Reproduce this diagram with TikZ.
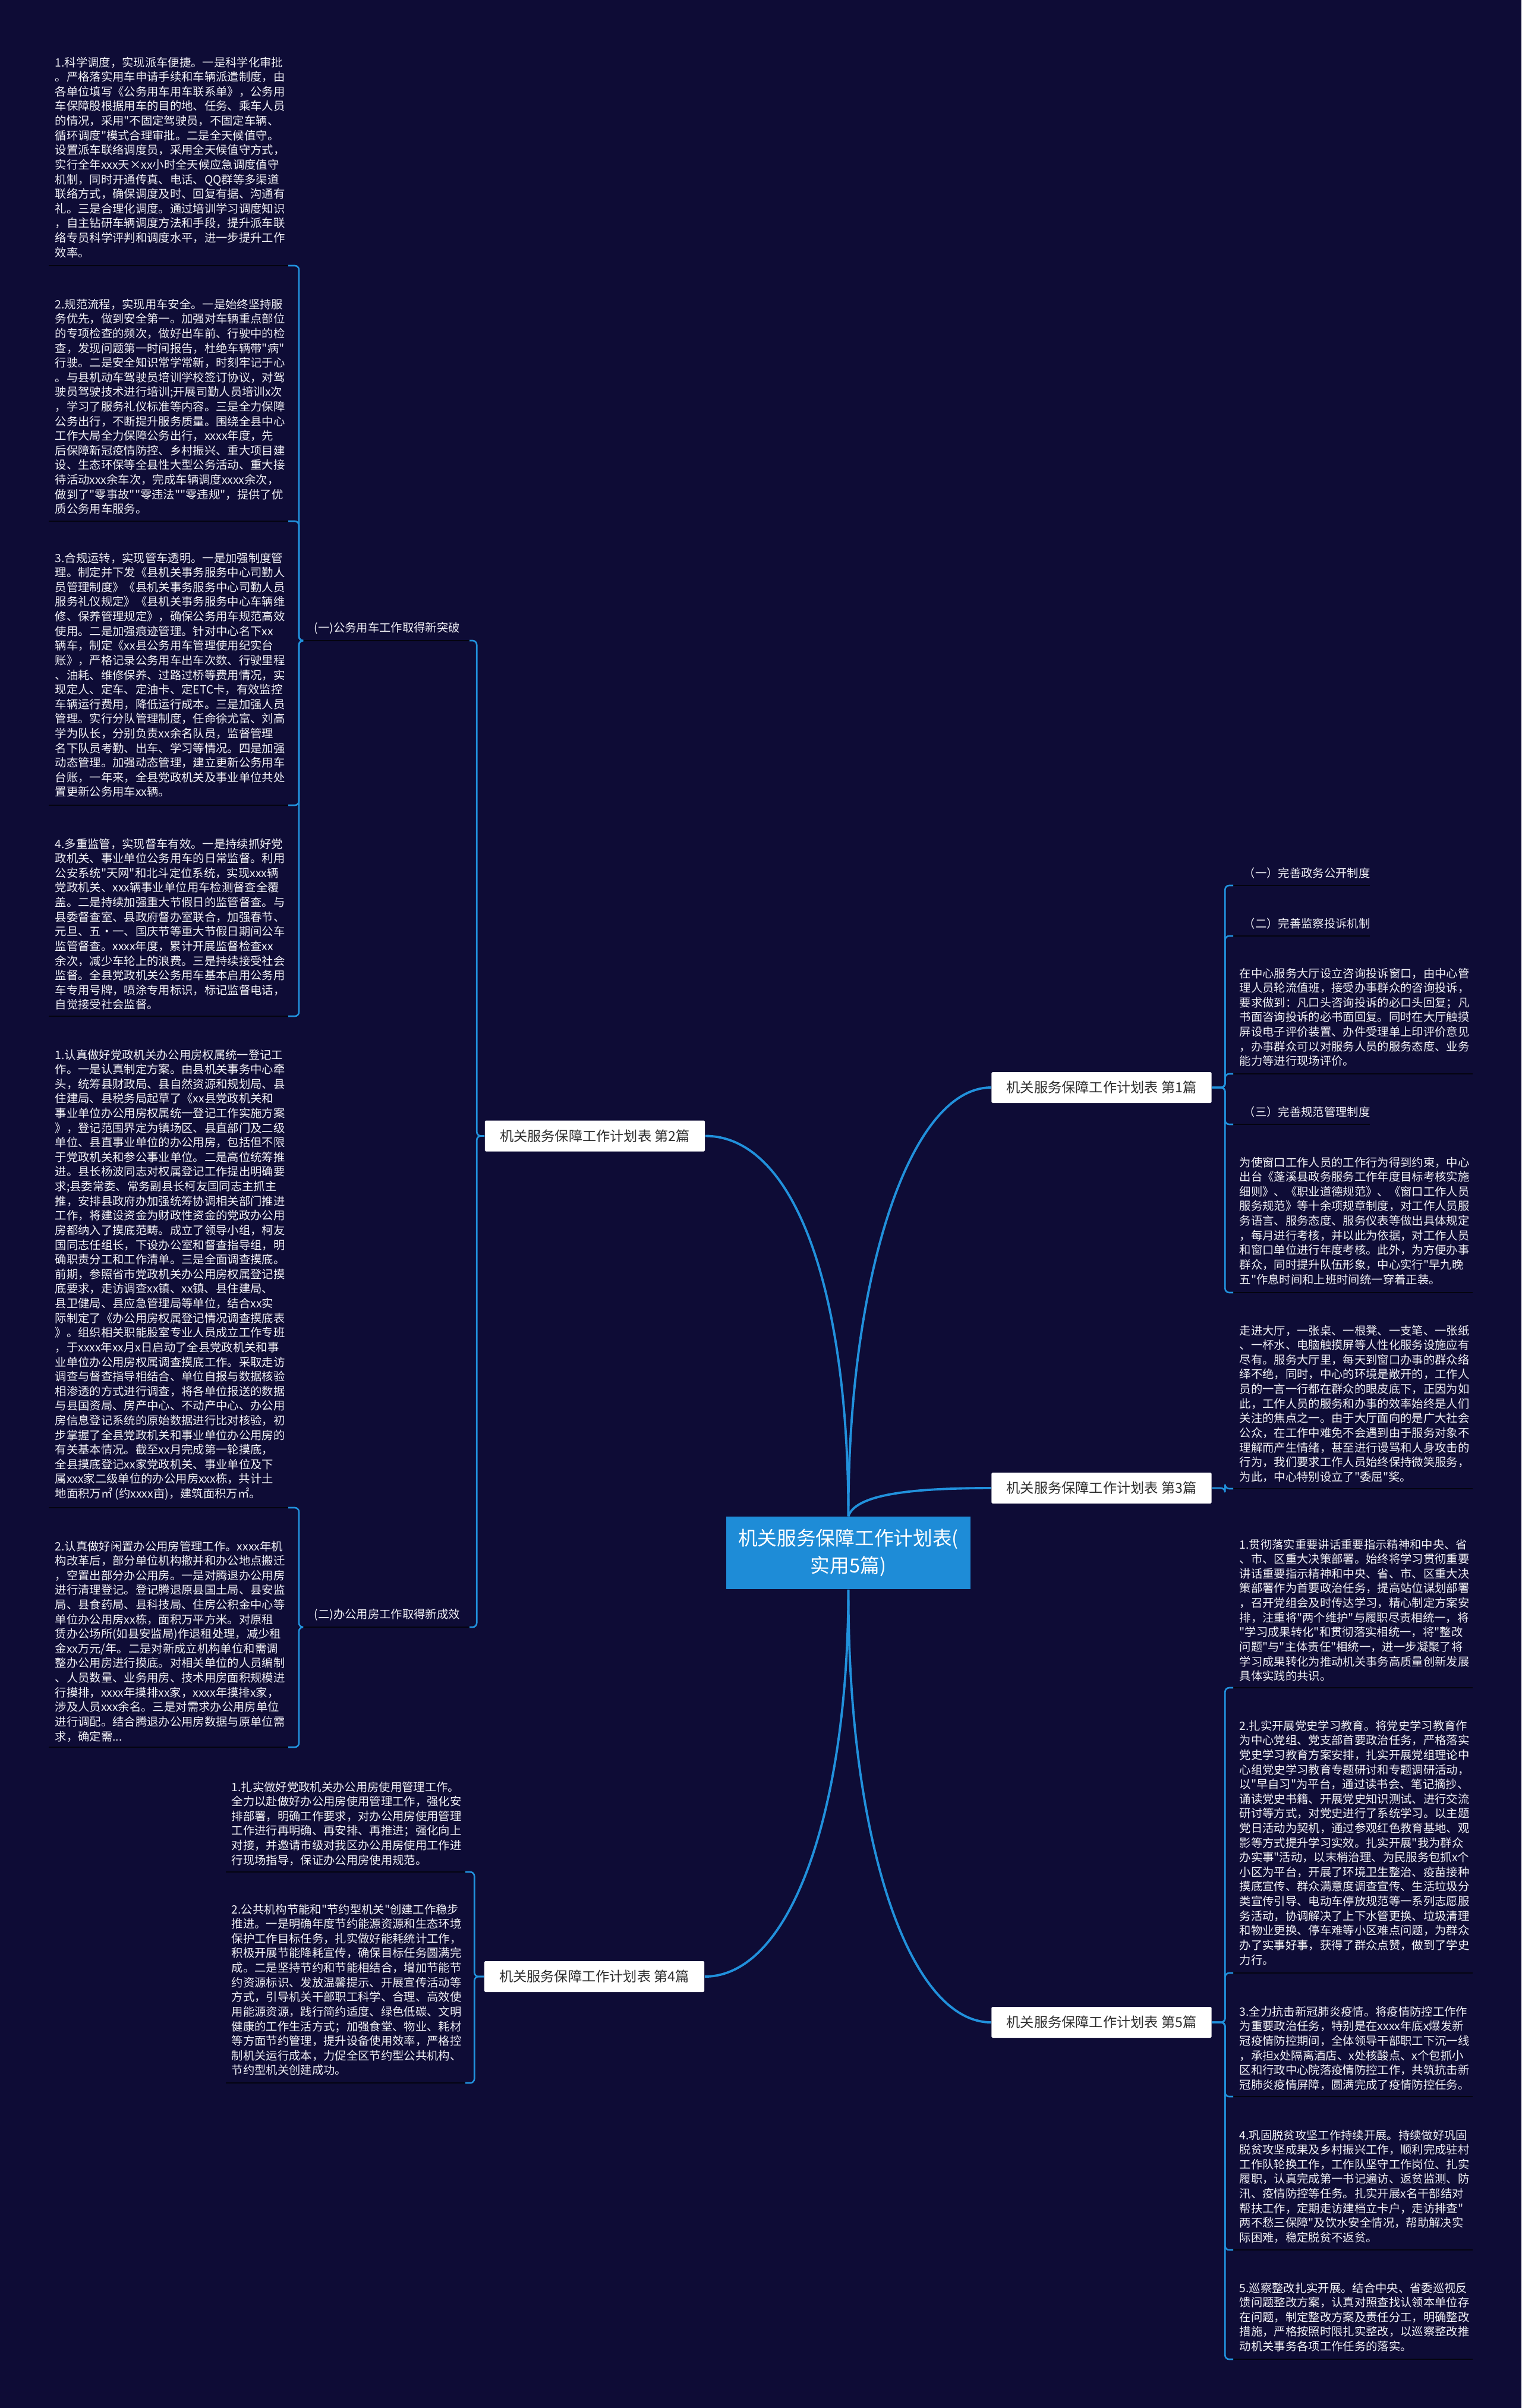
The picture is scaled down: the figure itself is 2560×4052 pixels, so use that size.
\documentclass[tikz,border=0pt]{standalone}
\usepackage{fontspec}
\newfontfamily\cjk{Noto Sans CJK SC}
\definecolor{bg}{RGB}{14,12,54}
\definecolor{lnk}{RGB}{33,145,220}
\definecolor{ulc}{RGB}{4,4,16}
\definecolor{txt}{RGB}{240,240,245}
\definecolor{rootc}{RGB}{30,140,215}
\definecolor{brtxt}{RGB}{45,45,45}
\tikzset{
 para/.style={font=\cjk\fontsize{5.5pt}{7pt}\selectfont, text=txt, align=left, inner sep=0pt, anchor=north west},
 lab/.style={font=\cjk\fontsize{5.5pt}{7pt}\selectfont, text=txt, inner sep=0pt, anchor=west},
 branch/.style={fill=white, text=brtxt, font=\cjk\fontsize{6.6pt}{8pt}\selectfont, minimum width=3.7cm, minimum height=0.52cm, inner sep=0pt, rounded corners=0.5pt},
 rootbox/.style={fill=rootc, text=white, font=\cjk\fontsize{9.3pt}{13pt}\selectfont, align=center, minimum width=4.11cm, minimum height=1.22cm, inner sep=0pt},
 ul/.style={draw=ulc, line width=0.8pt},
 br/.style={draw=lnk, line width=0.75pt, rounded corners=2pt},
 mainln/.style={draw=lnk, line width=1.1pt},
}
\begin{document}
\begin{tikzpicture}[x=0.01cm,y=-0.01cm]
\fill[bg] (0,0) rectangle (2560,4052);
\useasboundingbox (0,0) rectangle (2560,4052);

% root and branches
\node[rootbox] (c) at (1427.5,2613) {机关服务保障工作计划表(\\实用5篇)};
\node[branch] (p2) at (1001,1911.5) {机关服务保障工作计划表 第2篇};
\node[branch] (p4) at (1000,3326) {机关服务保障工作计划表 第4篇};
\node[branch] (p1) at (1853.5,1830) {机关服务保障工作计划表 第1篇};
\node[branch] (p3) at (1853.5,2504) {机关服务保障工作计划表 第3篇};
\node[branch] (p5) at (1853.5,3403) {机关服务保障工作计划表 第5篇};

\draw[mainln] (c.north) .. controls (1427,2150) and (1330,1911.5) .. (p2.east);
\draw[mainln] (c.north) .. controls (1427,2150) and (1530,1830) .. (p1.west);
\draw[mainln] (c.north) .. controls (1440,2515) and (1530,2504) .. (p3.west);
\draw[mainln] (c.south) .. controls (1427,3050) and (1330,3326) .. (p4.east);
\draw[mainln] (c.south) .. controls (1427,3100) and (1530,3403) .. (p5.west);

% ---------- left: 第2篇 ----------
\node[lab] (lab1) at (528,1057) {(一)公务用车工作取得新突破};
\node[lab] (lab2) at (528,2717) {(二)办公用房工作取得新成效};
\coordinate (lab1l) at (510,1078); \coordinate (lab1r) at (790,1078);
\coordinate (lab2l) at (510,2738); \coordinate (lab2r) at (790,2738);
\draw[ul] (lab1l) -- (lab1r);
\draw[ul] (lab2l) -- (lab2r);

\node[para] (L1) at (92,95) {1.科学调度，实现派车便捷。一是科学化审批\\
。严格落实用车申请手续和车辆派遣制度，由\\
各单位填写《公务用车用车联系单》，公务用\\
车保障股根据用车的目的地、任务、乘车人员\\
的情况，采用"不固定驾驶员，不固定车辆、\\
循环调度"模式合理审批。二是全天候值守。\\
设置派车联络调度员，采用全天候值守方式，\\
实行全年xxx天×xx小时全天候应急调度值守\\
机制，同时开通传真、电话、QQ群等多渠道\\
联络方式，确保调度及时、回复有据、沟通有\\
礼。三是合理化调度。通过培训学习调度知识\\
，自主钻研车辆调度方法和手段，提升派车联\\
络专员科学评判和调度水平，进一步提升工作\\
效率。};
\node[para] (L2) at (92,502) {2.规范流程，实现用车安全。一是始终坚持服\\
务优先，做到安全第一。加强对车辆重点部位\\
的专项检查的频次，做好出车前、行驶中的检\\
查，发现问题第一时间报告，杜绝车辆带"病"\\
行驶。二是安全知识常学常新，时刻牢记于心\\
。与县机动车驾驶员培训学校签订协议，对驾\\
驶员驾驶技术进行培训;开展司勤人员培训x次\\
，学习了服务礼仪标准等内容。三是全力保障\\
公务出行，不断提升服务质量。围绕全县中心\\
工作大局全力保障公务出行，xxxx年度，先\\
后保障新冠疫情防控、乡村振兴、重大项目建\\
设、生态环保等全县性大型公务活动、重大接\\
待活动xxx余车次，完成车辆调度xxxx余次，\\
做到了"零事故""零违法""零违规"，提供了优\\
质公务用车服务。};
\node[para] (L3) at (92,929) {3.合规运转，实现管车透明。一是加强制度管\\
理。制定并下发《县机关事务服务中心司勤人\\
员管理制度》《县机关事务服务中心司勤人员\\
服务礼仪规定》《县机关事务服务中心车辆维\\
修、保养管理规定》，确保公务用车规范高效\\
使用。二是加强痕迹管理。针对中心名下xx\\
辆车，制定《xx县公务用车管理使用纪实台\\
账》，严格记录公务用车出车次数、行驶里程\\
、油耗、维修保养、过路过桥等费用情况，实\\
现定人、定车、定油卡、定ETC卡，有效监控\\
车辆运行费用，降低运行成本。三是加强人员\\
管理。实行分队管理制度，任命徐尤富、刘高\\
学为队长，分别负责xx余名队员，监督管理\\
名下队员考勤、出车、学习等情况。四是加强\\
动态管理。加强动态管理，建立更新公务用车\\
台账，一年来，全县党政机关及事业单位共处\\
置更新公务用车xx辆。};
\node[para] (L4) at (92,1410) {4.多重监管，实现督车有效。一是持续抓好党\\
政机关、事业单位公务用车的日常监督。利用\\
公安系统"天网"和北斗定位系统，实现xxx辆\\
党政机关、xxx辆事业单位用车检测督查全覆\\
盖。二是持续加强重大节假日的监管督查。与\\
县委督查室、县政府督办室联合，加强春节、\\
元旦、五·一、国庆节等重大节假日期间公车\\
监管督查。xxxx年度，累计开展监督检查xx\\
余次，减少车轮上的浪费。三是持续接受社会\\
监督。全县党政机关公务用车基本启用公务用\\
车专用号牌，喷涂专用标识，标记监督电话，\\
自觉接受社会监督。};
\node[para] (L5) at (92,1765) {1.认真做好党政机关办公用房权属统一登记工\\
作。一是认真制定方案。由县机关事务中心牵\\
头，统筹县财政局、县自然资源和规划局、县\\
住建局、县税务局起草了《xx县党政机关和\\
事业单位办公用房权属统一登记工作实施方案\\
》，登记范围界定为镇场区、县直部门及二级\\
单位、县直事业单位的办公用房，包括但不限\\
于党政机关和参公事业单位。二是高位统筹推\\
进。县长杨波同志对权属登记工作提出明确要\\
求;县委常委、常务副县长柯友国同志主抓主\\
推，安排县政府办加强统筹协调相关部门推进\\
工作，将建设资金为财政性资金的党政办公用\\
房都纳入了摸底范畴。成立了领导小组，柯友\\
国同志任组长，下设办公室和督查指导组，明\\
确职责分工和工作清单。三是全面调查摸底。\\
前期，参照省市党政机关办公用房权属登记摸\\
底要求，走访调查xx镇、xx镇、县住建局、\\
县卫健局、县应急管理局等单位，结合xx实\\
际制定了《办公用房权属登记情况调查摸底表\\
》。组织相关职能股室专业人员成立工作专班\\
，于xxxx年xx月x日启动了全县党政机关和事\\
业单位办公用房权属调查摸底工作。采取走访\\
调查与督查指导相结合、单位自报与数据核验\\
相渗透的方式进行调查，将各单位报送的数据\\
与县国资局、房产中心、不动产中心、办公用\\
房信息登记系统的原始数据进行比对核验，初\\
步掌握了全县党政机关和事业单位办公用房的\\
有关基本情况。截至xx月完成第一轮摸底，\\
全县摸底登记xx家党政机关、事业单位及下\\
属xxx家二级单位的办公用房xxx栋，共计土\\
地面积万㎡ (约xxxx亩)，建筑面积万㎡。};
\node[para] (L6) at (92,2592) {2.认真做好闲置办公用房管理工作。xxxx年机\\
构改革后，部分单位机构撤并和办公地点搬迁\\
，空置出部分办公用房。一是对腾退办公用房\\
进行清理登记。登记腾退原县国土局、县安监\\
局、县食药局、县科技局、住房公积金中心等\\
单位办公用房xx栋，面积万平方米。对原租\\
赁办公场所(如县安监局)作退租处理，减少租\\
金xx万元/年。二是对新成立机构单位和需调\\
整办公用房进行摸底。对相关单位的人员编制\\
、人员数量、业务用房、技术用房面积规模进\\
行摸排，xxxx年摸排xx家，xxxx年摸排x家，\\
涉及人员xxx余名。三是对需求办公用房单位\\
进行调配。结合腾退办公用房数据与原单位需\\
求，确定需...};

\foreach \n/\y in {L1/447,L2/877,L3/1355,L4/1710,L5/2537,L6/2940}{
  \coordinate (\n l) at (82,\y); \coordinate (\n r) at (485,\y);
  \draw[ul] (\n l) -- (\n r);
}
\draw[br] (p2.west) -- ++(-13,0) |- (lab1r);
\draw[br] (p2.west) -- ++(-13,0) |- (lab2r);
\foreach \n in {L1,L2,L3,L4}{\draw[br] (lab1l) -- ++(-7,0) |- (\n r);}
\foreach \n in {L5,L6}{\draw[br] (lab2l) -- ++(-7,0) |- (\n r);}

% ---------- left: 第4篇 ----------
\node[para] (F1) at (389,2997) {1.扎实做好党政机关办公用房使用管理工作。\\
全力以赴做好办公用房使用管理工作，强化安\\
排部署，明确工作要求，对办公用房使用管理\\
工作进行再明确、再安排、再推进；强化向上\\
对接，并邀请市级对我区办公用房使用工作进\\
行现场指导，保证办公用房使用规范。};
\node[para] (F2) at (389,3203) {2.公共机构节能和"节约型机关"创建工作稳步\\
推进。一是明确年度节约能源资源和生态环境\\
保护工作目标任务，扎实做好能耗统计工作，\\
积极开展节能降耗宣传，确保目标任务圆满完\\
成。二是坚持节约和节能相结合，增加节能节\\
约资源标识、发放温馨提示、开展宣传活动等\\
方式，引导机关干部职工科学、合理、高效使\\
用能源资源，践行简约适度、绿色低碳、文明\\
健康的工作生活方式；加强食堂、物业、耗材\\
等方面节约管理，提升设备使用效率，严格控\\
制机关运行成本，力促全区节约型公共机构、\\
节约型机关创建成功。};
\foreach \n/\y in {F1/3150,F2/3505}{
  \coordinate (\n l) at (380,\y); \coordinate (\n r) at (783,\y);
  \draw[ul] (\n l) -- (\n r);
  \draw[br] (p4.west) -- ++(-16,0) |- (\n r);
}

% ---------- right: 第1篇 ----------
\node[lab] (R1) at (2092,1469) {（一）完善政务公开制度};
\node[lab] (R2) at (2092,1554) {（二）完善监察投诉机制};
\node[lab] (R4) at (2092,1871) {（三）完善规范管理制度};
\node[para] (R3) at (2085,1628) {在中心服务大厅设立咨询投诉窗口，由中心管\\
理人员轮流值班，接受办事群众的咨询投诉，\\
要求做到：凡口头咨询投诉的必口头回复；凡\\
书面咨询投诉的必书面回复。同时在大厅触摸\\
屏设电子评价装置、办件受理单上印评价意见\\
，办事群众可以对服务人员的服务态度、业务\\
能力等进行现场评价。};
\node[para] (R5) at (2085,1946) {为使窗口工作人员的工作行为得到约束，中心\\
出台《蓬溪县政务服务工作年度目标考核实施\\
细则》、《职业道德规范》、《窗口工作人员\\
服务规范》等十余项规章制度，对工作人员服\\
务语言、服务态度、服务仪表等做出具体规定\\
，每月进行考核，并以此为依据，对工作人员\\
和窗口单位进行年度考核。此外，为方便办事\\
群众，同时提升队伍形象，中心实行"早九晚\\
五"作息时间和上班时间统一穿着正装。};
\foreach \n/\y/\e in {R1/1490/2305,R2/1575/2305,R3/1807/2478,R4/1892/2305,R5/2175/2478}{
  \coordinate (\n l) at (2075,\y); \coordinate (\n r) at (\e,\y);
  \draw[ul] (\n l) -- (\n r);
  \draw[br] (p1.east) -- ++(22,0) |- (\n l);
}

% ---------- right: 第3篇 ----------
\node[para] (R6) at (2085,2229) {走进大厅，一张桌、一根凳、一支笔、一张纸\\
、一杯水、电脑触摸屏等人性化服务设施应有\\
尽有。服务大厅里，每天到窗口办事的群众络\\
绎不绝，同时，中心的环境是敞开的，工作人\\
员的一言一行都在群众的眼皮底下，正因为如\\
此，工作人员的服务和办事的效率始终是人们\\
关注的焦点之一。由于大厅面向的是广大社会\\
公众，在工作中难免不会遇到由于服务对象不\\
理解而产生情绪，甚至进行谩骂和人身攻击的\\
行为，我们要求工作人员始终保持微笑服务，\\
为此，中心特别设立了"委屈"奖。};
\coordinate (R6l) at (2075,2505); \coordinate (R6r) at (2478,2505);
\draw[ul] (R6l) -- (R6r);
\draw[br] (p3.east) -- ++(22,0) |- (R6l);

% ---------- right: 第5篇 ----------
\node[para] (R7) at (2085,2589) {1.贯彻落实重要讲话重要指示精神和中央、省\\
、市、区重大决策部署。始终将学习贯彻重要\\
讲话重要指示精神和中央、省、市、区重大决\\
策部署作为首要政治任务，提高站位谋划部署\\
，召开党组会及时传达学习，精心制定方案安\\
排，注重将"两个维护"与履职尽责相统一，将\\
"学习成果转化"和贯彻落实相统一，将"整改\\
问题"与"主体责任"相统一，进一步凝聚了将\\
学习成果转化为推动机关事务高质量创新发展\\
具体实践的共识。};
\node[para] (R8) at (2085,2894) {2.扎实开展党史学习教育。将党史学习教育作\\
为中心党组、党支部首要政治任务，严格落实\\
党史学习教育方案安排，扎实开展党组理论中\\
心组党史学习教育专题研讨和专题调研活动，\\
以"早自习"为平台，通过读书会、笔记摘抄、\\
诵读党史书籍、开展党史知识测试、进行交流\\
研讨等方式，对党史进行了系统学习。以主题\\
党日活动为契机，通过参观红色教育基地、观\\
影等方式提升学习实效。扎实开展"我为群众\\
办实事"活动，以末梢治理、为民服务包抓x个\\
小区为平台，开展了环境卫生整治、疫苗接种\\
摸底宣传、群众满意度调查宣传、生活垃圾分\\
类宣传引导、电动车停放规范等一系列志愿服\\
务活动，协调解决了上下水管更换、垃圾清理\\
和物业更换、停车难等小区难点问题，为群众\\
办了实事好事，获得了群众点赞，做到了学史\\
力行。};
\node[para] (R9) at (2085,3375) {3.全力抗击新冠肺炎疫情。将疫情防控工作作\\
为重要政治任务，特别是在xxxx年底x爆发新\\
冠疫情防控期间，全体领导干部职工下沉一线\\
，承担x处隔离酒店、x处核酸点、x个包抓小\\
区和行政中心院落疫情防控工作，共筑抗击新\\
冠肺炎疫情屏障，圆满完成了疫情防控任务。};
\node[para] (R10) at (2085,3583) {4.巩固脱贫攻坚工作持续开展。持续做好巩固\\
脱贫攻坚成果及乡村振兴工作，顺利完成驻村\\
工作队轮换工作，工作队坚守工作岗位、扎实\\
履职，认真完成第一书记遍访、返贫监测、防\\
汛、疫情防控等任务。扎实开展x名干部结对\\
帮扶工作，定期走访建档立卡户，走访排查"\\
两不愁三保障"及饮水安全情况，帮助解决实\\
际困难，稳定脱贫不返贫。};
\node[para] (R11) at (2085,3840) {5.巡察整改扎实开展。结合中央、省委巡视反\\
馈问题整改方案，认真对照查找认领本单位存\\
在问题，制定整改方案及责任分工，明确整改\\
措施，严格按照时限扎实整改，以巡察整改推\\
动机关事务各项工作任务的落实。};
\foreach \n/\y in {R7/2840,R8/3320,R9/3528,R10/3786,R11/3970}{
  \coordinate (\n l) at (2075,\y); \coordinate (\n r) at (2478,\y);
  \draw[ul] (\n l) -- (\n r);
  \draw[br] (p5.east) -- ++(22,0) |- (\n l);
}
\end{tikzpicture}
\end{document}
